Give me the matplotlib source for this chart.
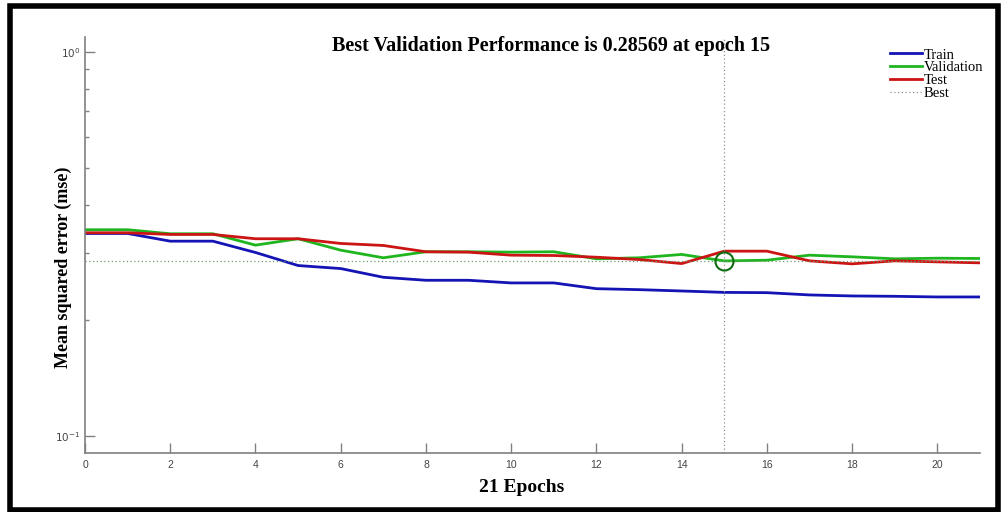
import matplotlib
matplotlib.use('Agg')
import matplotlib.pyplot as plt
from matplotlib.patches import Rectangle
from matplotlib.lines import Line2D
import numpy as np

epochs = list(range(22))
train = [0.3368, 0.3368, 0.3216, 0.3216, 0.3005, 0.2779, 0.2729, 0.2590, 0.2544, 0.2544, 0.2504,
         0.2504, 0.2419, 0.2405, 0.2386, 0.2366, 0.2362, 0.2330, 0.2316, 0.2311, 0.2302, 0.2302]
validation = [0.3444, 0.3444, 0.3362, 0.3362, 0.3140, 0.3263, 0.3047, 0.2911, 0.3018, 0.3018, 0.3011,
              0.3018, 0.2893, 0.2911, 0.2970, 0.28569, 0.2869, 0.2957, 0.2928, 0.2893, 0.2904, 0.2899]
test = [0.3382, 0.3382, 0.3348, 0.3348, 0.3263, 0.3263, 0.3172, 0.3134, 0.3018, 0.3011, 0.2957,
        0.2951, 0.2921, 0.2881, 0.2812, 0.3029, 0.3029, 0.2858, 0.2807, 0.2858, 0.2841, 0.2824]
best_epoch = 15
best_perf = 0.28569
xticks = [0, 2, 4, 6, 8, 10, 12, 14, 16, 18, 20]

fig = plt.figure(figsize=(10.05, 5.12), dpi=100)
fig.patch.set_facecolor('white')
ax = fig.add_axes([0.0846, 0.115, 0.8905, 0.813])

serif = ['Liberation Serif', 'DejaVu Serif']
sans = ['Liberation Sans', 'DejaVu Sans']

ax.plot(epochs, train, color='#1414b4', lw=2, label='Train')
ax.plot(epochs, validation, color='#1fb51f', lw=2, label='Validation')
ax.plot(epochs, test, color='#cc1414', lw=2, label='Test')
ax.axhline(best_perf, color='#6f9f6f', lw=0.9, ls=(0, (1, 2)))
ax.axvline(best_epoch, color='#909090', lw=0.9, ls=(0, (1, 2)))
ax.plot([best_epoch], [best_perf], 'o', ms=13, mfc='none', mec='#0f6b0f', mew=1.5)

ax.set_yscale('log')
ax.set_ylim(0.0903, 1.094)
ax.set_xlim(0, 21)
ax.set_xticks(xticks)
ax.set_yticks([0.1, 1.0])
ax.set_yticklabels([r'$10^{-1}$', r'$10^{0}$'])

for s in ['top', 'right']:
    ax.spines[s].set_visible(False)
for s in ['left', 'bottom']:
    ax.spines[s].set_color('#808080')
    ax.spines[s].set_linewidth(1.2)

ax.tick_params(which='major', direction='in', length=7, color='#808080', width=1,
               labelsize=7.5, labelcolor='#444444')
ax.tick_params(which='minor', direction='in', length=3, color='#808080', width=1)
ax.tick_params(axis='y', which='minor', labelleft=False)
ax.tick_params(axis='x', pad=5)
for lab in ax.get_xticklabels() + ax.get_yticklabels():
    lab.set_family(sans)

ax.set_xlabel('21 Epochs', fontsize=14, fontweight='bold', family=serif)
ax.xaxis.set_label_coords(0.488, -0.062)
ax.set_ylabel('Mean squared error (mse)', fontsize=13, fontweight='bold', family=serif)
ax.yaxis.set_label_coords(-0.0145, 0.447)
fig.text(0.548, 1 - 46 / 512, 'Best Validation Performance is 0.28569 at epoch 15',
         ha='center', va='center', fontsize=14.5, fontweight='bold', family=serif)

handles = [Line2D([], [], color='#1414b4', lw=2),
           Line2D([], [], color='#1fb51f', lw=2),
           Line2D([], [], color='#cc1414', lw=2),
           Line2D([], [], color='#909090', lw=0.9, ls=(0, (1, 2)))]
leg = ax.legend(handles, ['Train', 'Validation', 'Test', 'Best'], loc='upper right',
                bbox_to_anchor=(1.012, 0.99), frameon=False, prop={'family': serif, 'size': 10.5},
                handlelength=2.2, handletextpad=0.15, labelspacing=-0.02, borderpad=0)

fig.patches.append(Rectangle((0.01, 0.004), 0.983, 0.984, transform=fig.transFigure,
                             fill=False, edgecolor='black', lw=4))

fig.savefig('out.png', dpi=100)
